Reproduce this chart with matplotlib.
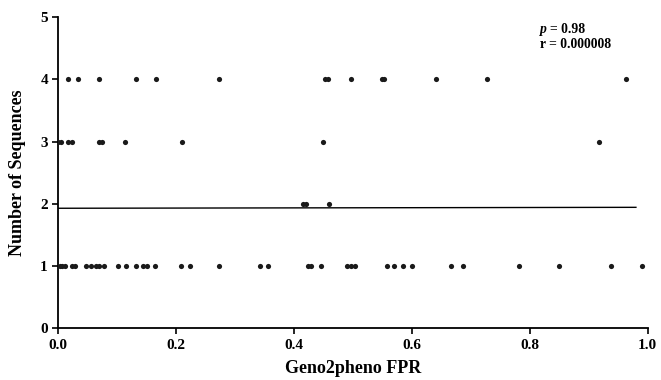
import matplotlib
matplotlib.use("Agg")
import matplotlib.pyplot as plt

# Data
fpr_4 = [0.017, 0.033, 0.069, 0.132, 0.165, 0.273, 0.453, 0.457, 0.497,
         0.549, 0.553, 0.641, 0.727, 0.963]
fpr_3 = [0.0, 0.005, 0.017, 0.024, 0.069, 0.074, 0.114, 0.210, 0.449, 0.918]
fpr_2 = [0.415, 0.420, 0.460]
fpr_1 = [0.003, 0.007, 0.011, 0.024, 0.029, 0.047, 0.055, 0.064, 0.069, 0.078,
         0.102, 0.115, 0.132, 0.144, 0.151, 0.164, 0.209, 0.224, 0.272, 0.342,
         0.356, 0.423, 0.428, 0.446, 0.489, 0.496, 0.503, 0.557, 0.570, 0.585,
         0.600, 0.666, 0.686, 0.782, 0.850, 0.937, 0.990]
fit_x = [0.0, 0.98]
fit_y = [1.93, 1.945]
x_ticks = [0.0, 0.2, 0.4, 0.6, 0.8, 1.0]
y_ticks = [0, 1, 2, 3, 4, 5]

plt.rcParams['font.family'] = ['Liberation Serif', 'DejaVu Serif']
plt.rcParams['font.weight'] = 'bold'

fig = plt.figure(figsize=(6.61, 3.80), dpi=100)
ax = fig.add_axes([0.0882, 0.136, 0.8917, 0.8185])

xs = fpr_4 + fpr_3 + fpr_2 + fpr_1
ys = [4] * len(fpr_4) + [3] * len(fpr_3) + [2] * len(fpr_2) + [1] * len(fpr_1)
ax.scatter(xs, ys, s=14, color='#1a1a1a', linewidths=0, zorder=3)
ax.plot(fit_x, fit_y, color='black', lw=1.0)

ax.set_xlim(0, 1.0)
ax.set_ylim(0, 5)
ax.set_xticks(x_ticks)
ax.set_xticklabels([f"{v:.1f}" for v in x_ticks])
ax.set_yticks(y_ticks)
ax.set_yticklabels([str(v) for v in y_ticks])
for s in ['top', 'right']:
    ax.spines[s].set_visible(False)
for s in ['left', 'bottom']:
    ax.spines[s].set_linewidth(1.3)
ax.tick_params(axis='both', direction='out', length=4, width=1.2, labelsize=11)
for lab in ax.get_xticklabels() + ax.get_yticklabels():
    lab.set_fontweight('bold')

ax.set_xlabel('Geno2pheno FPR', fontsize=13, fontweight='bold', labelpad=6)
ax.set_ylabel('Number of Sequences', fontsize=13, fontweight='bold', labelpad=10)

ax.text(0.817, 0.962, 'p', transform=ax.transAxes, fontsize=9.8,
        fontweight='bold', style='italic', va='center', ha='left')
ax.text(0.834, 0.962, '= 0.98', transform=ax.transAxes, fontsize=9.8,
        fontweight='bold', va='center', ha='left')
ax.text(0.817, 0.911, 'r = 0.000008', transform=ax.transAxes, fontsize=9.8,
        fontweight='bold', va='center', ha='left')

fig.savefig('out.png', dpi=100)
